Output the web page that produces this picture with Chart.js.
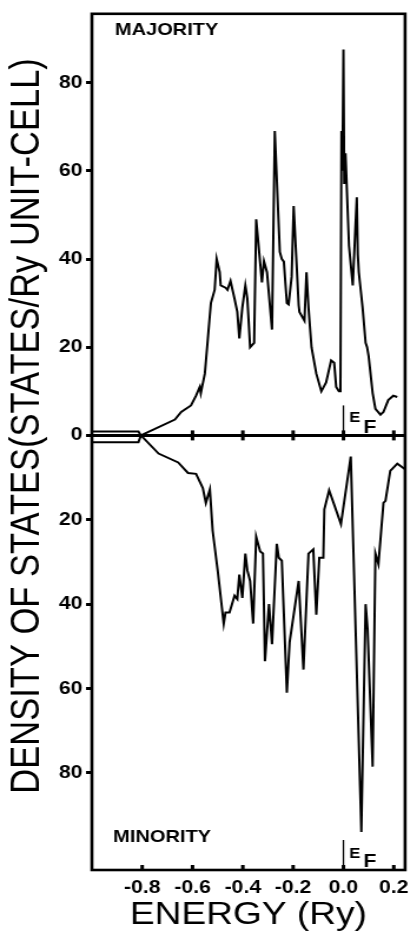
<!DOCTYPE html>
<html>
<head>
<meta charset="utf-8">
<script src="https://cdn.jsdelivr.net/npm/chart.js@4.4.1/dist/chart.umd.min.js"></script>
<style>
  html, body { margin: 0; padding: 0; background: #fff; overflow: hidden; }
  #wrap { width: 417px; height: 936px; position: relative; }
  #c { display: block; transform: scaleX(1.17797); transform-origin: 0 0; }
</style>
</head>
<body>
<div id="wrap"><canvas id="c" width="354" height="936"></canvas></div>
<script>
// ---- data (energy in Ry, DOS in states/Ry unit-cell) ----
const energyMajority = [-1.0, -0.815, -0.805, -0.67, -0.645, -0.606, -0.586, -0.571, -0.567, -0.551,
  -0.539, -0.527, -0.512, -0.504, -0.492, -0.488, -0.469, -0.461, -0.449, -0.433,
  -0.422, -0.414, -0.402, -0.390, -0.382, -0.371, -0.355, -0.347, -0.324, -0.316,
  -0.304, -0.284, -0.273, -0.253, -0.245, -0.237, -0.225, -0.218, -0.206, -0.198,
  -0.178, -0.175, -0.155, -0.147, -0.139, -0.127, -0.108, -0.088, -0.069, -0.049,
  -0.037, -0.029, -0.018, -0.012, -0.008, -0.004, 0.0, 0.003, 0.008, 0.022,
  0.037, 0.053, 0.057, 0.061, 0.076, 0.088, 0.094, 0.100, 0.116, 0.127,
  0.147, 0.159, 0.178, 0.198, 0.214];
const dosMajority = [0.9, 0.9, 0, 3.6, 5.3, 6.8, 9, 11, 9.6, 14,
  22, 30, 33, 40, 37, 34, 33.5, 33, 35, 31,
  28, 22, 29, 34, 31, 20, 21, 49, 34.7, 39.5,
  37, 24, 69, 41.6, 40, 39.4, 30, 29.7, 36, 52,
  29.5, 28, 26, 37, 29, 20, 14, 10, 12, 17,
  16.5, 11, 10, 10, 69, 60, 87.5, 57, 64, 43,
  34, 54, 41, 37, 29, 21, 20, 18, 9.6, 6,
  4.7, 5.3, 8, 9, 8.7];

const energyMinority = [-1.0, -0.815, -0.805, -0.735, -0.657, -0.618, -0.586, -0.559, -0.547, -0.531,
  -0.520, -0.500, -0.476, -0.469, -0.453, -0.433, -0.422, -0.414, -0.402, -0.390,
  -0.382, -0.371, -0.359, -0.347, -0.331, -0.320, -0.312, -0.296, -0.284, -0.265,
  -0.257, -0.245, -0.225, -0.214, -0.178, -0.159, -0.139, -0.120, -0.108, -0.096,
  -0.080, -0.076, -0.057, -0.010, 0.029, 0.071, 0.088, 0.096, 0.116, 0.127,
  0.139, 0.159, 0.167, 0.186, 0.214, 0.245];
const dosMinority = [1.6, 1.6, 0, 4.3, 6.4, 8.9, 9.1, 12.5, 16, 12.8,
  22.6, 32, 44.6, 42, 42, 38, 38.8, 33, 38.5, 28,
  32, 34.5, 44.6, 24, 27.5, 28, 53.5, 40, 49.5, 25.7,
  29, 29.7, 61, 49, 34.5, 55.5, 28, 27, 42.5, 29,
  29, 17.5, 13, 21, 5, 94, 40, 46, 78.5, 28,
  30.5, 16, 15.5, 8.4, 6.7, 8];

const xTickValues = [-0.8, -0.6, -0.4, -0.2, 0.0, 0.2];
const zeroLineTickValues = [-0.6, -0.4, -0.2, 0.0, 0.2];
const yTicksMajority = [0, 20, 40, 60, 80];
const yTicksMinority = [20, 40, 60, 80];
const fermiEnergy = 0.0;
const panelLabels = ['MAJORITY', 'MINORITY'];
const xTitle = 'ENERGY (Ry)';
const yTitle = 'DENSITY OF STATES(STATES/Ry UNIT-CELL)';

// ---- chart ----
const toPoints = (xs, ys) => xs.map((x, i) => ({ x: x, y: ys[i] }));
const tickFont = { family: 'Liberation Sans', weight: 'bold', size: 18 };

const framePlugin = {
  id: 'frame',
  afterDatasetsDraw(chart) {
    const { ctx, chartArea: a, scales } = chart;
    const xs = scales.x;
    const y0 = scales.yUp.getPixelForValue(0);
    const xEF = xs.getPixelForValue(fermiEnergy);
    ctx.save();
    ctx.strokeStyle = '#000';
    ctx.fillStyle = '#000';
    ctx.lineCap = 'butt';
    // frame
    ctx.lineWidth = 2.6;
    ctx.strokeRect(a.left, a.top, a.right - a.left, a.bottom - a.top);
    // zero line
    ctx.lineWidth = 3;
    ctx.beginPath(); ctx.moveTo(a.left, y0); ctx.lineTo(a.right, y0); ctx.stroke();
    // ticks on zero line
    zeroLineTickValues.forEach(v => {
      const px = xs.getPixelForValue(v);
      ctx.beginPath(); ctx.moveTo(px, y0 - 5); ctx.lineTo(px, y0 + 5); ctx.stroke();
    });
    // ticks on bottom axis (inside)
    xTickValues.forEach(v => {
      const px = xs.getPixelForValue(v);
      ctx.beginPath(); ctx.moveTo(px, a.bottom - 5); ctx.lineTo(px, a.bottom); ctx.stroke();
    });
    // Fermi level markers
    ctx.lineWidth = 1.3;
    ctx.beginPath(); ctx.moveTo(xEF, y0 - 30); ctx.lineTo(xEF, y0); ctx.stroke();
    ctx.beginPath(); ctx.moveTo(xEF, a.bottom - 30); ctx.lineTo(xEF, a.bottom); ctx.stroke();
    ctx.textBaseline = 'alphabetic';
    ctx.textAlign = 'left';
    ctx.font = 'bold 14px "Liberation Sans"';
    ctx.fillText('E', xEF + 5, y0 - 13);
    ctx.fillText('E', xEF + 5, a.bottom - 12);
    ctx.font = 'bold 18px "Liberation Sans"';
    ctx.fillText('F', xEF + 17, y0 - 2);
    ctx.fillText('F', xEF + 17, a.bottom - 3);
    // panel labels
    ctx.font = 'bold 17px "Liberation Sans"';
    ctx.fillText(panelLabels[0], a.left + 19.5, a.top + 21);
    ctx.fillText(panelLabels[1], a.left + 18, a.bottom - 28);
    ctx.restore();
  }
};

const blankAxis = (extra) => Object.assign({
  type: 'linear',
  position: 'left',
  display: true,
  afterFit: s => { s.width = 46; },
  grid: { display: false, drawTicks: false },
  border: { display: false },
  ticks: { display: false }
}, extra);

new Chart(document.getElementById('c'), {
  type: 'scatter',
  data: {
    datasets: [
      {
        label: 'Majority',
        data: toPoints(energyMajority, dosMajority),
        yAxisID: 'yUp',
        showLine: true,
        borderColor: '#000',
        borderWidth: 2,
        pointRadius: 0,
        tension: 0,
        fill: false
      },
      {
        label: 'Minority',
        data: toPoints(energyMinority, dosMinority),
        yAxisID: 'yDn',
        showLine: true,
        borderColor: '#000',
        borderWidth: 2,
        pointRadius: 0,
        tension: 0,
        fill: false
      }
    ]
  },
  options: {
    responsive: false,
    animation: false,
    events: [],
    layout: { padding: { left: 0, right: 6, top: 13, bottom: 0 } },
    plugins: { legend: { display: false }, tooltip: { enabled: false } },
    scales: {
      x: {
        type: 'linear',
        position: 'bottom',
        min: -1.0,
        max: 0.245,
        afterBuildTicks: s => { s.ticks = xTickValues.map(v => ({ value: v })); },
        afterFit: s => { s.height = 66; },
        grid: { display: false, drawTicks: false },
        border: { display: false },
        ticks: {
          padding: 7,
          color: '#000',
          font: tickFont,
          maxRotation: 0,
          autoSkip: false,
          callback: v => Number(v).toFixed(1)
        },
        title: {
          display: true,
          text: xTitle,
          color: '#000',
          font: { family: 'Liberation Sans', size: 31.5 },
          padding: { top: 0, bottom: 2 }
        }
      },
      yUp: {
        type: 'linear',
        position: 'left',
        stack: 'dos',
        stackWeight: 422,
        weight: 1,
        min: 0,
        max: 95.6,
        afterBuildTicks: s => { s.ticks = yTicksMajority.map(v => ({ value: v })); },
        afterFit: s => { s.width = 32; },
        grid: { drawOnChartArea: false, drawTicks: true, tickLength: 5, tickWidth: 3, tickColor: '#000' },
        border: { display: false },
        ticks: { padding: 3, color: '#000', font: tickFont }
      },
      yDn: {
        type: 'linear',
        position: 'left',
        stack: 'dos',
        stackWeight: 435,
        weight: 0,
        reverse: true,
        min: 0,
        max: 103,
        afterBuildTicks: s => { s.ticks = yTicksMinority.map(v => ({ value: v })); },
        afterFit: s => { s.width = 32; },
        grid: { drawOnChartArea: false, drawTicks: true, tickLength: 5, tickWidth: 3, tickColor: '#000' },
        border: { display: false },
        ticks: { padding: 3, color: '#000', font: tickFont }
      },
      yTitle: blankAxis({
        weight: 10,
        stack: 'title',
        stackWeight: 825,
        title: {
          display: true,
          text: yTitle,
          color: '#000',
          font: { family: 'Liberation Sans', size: 34.5 },
          padding: { top: 3, bottom: 0 }
        }
      }),
      yTitlePad: blankAxis({
        weight: 9,
        stack: 'title',
        stackWeight: 32
      })
    }
  },
  plugins: [framePlugin]
});
</script>
</body>
</html>
